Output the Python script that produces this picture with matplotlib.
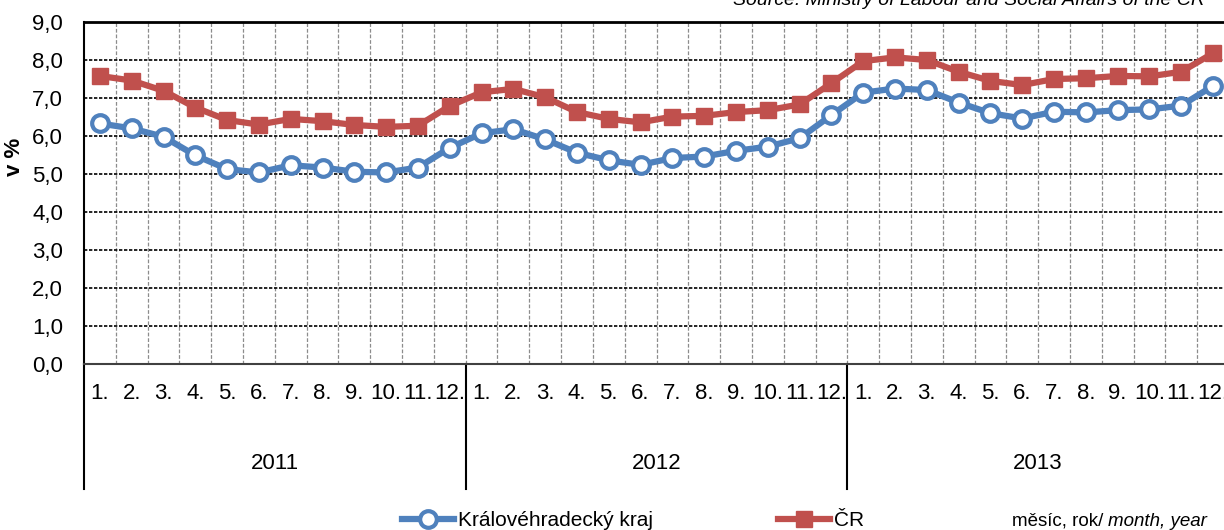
import matplotlib
matplotlib.use('Agg')
import matplotlib.pyplot as plt
from matplotlib.ticker import FuncFormatter
import matplotlib.transforms as mtransforms

plt.rcParams['font.family'] = ['Liberation Sans', 'DejaVu Sans']

years = ['2011', '2012', '2013']
months = [f'{m}.' for m in range(1, 13)]

kraj = [6.33, 6.20, 5.98, 5.49, 5.13, 5.04, 5.23, 5.17, 5.06, 5.04, 5.17, 5.69,
        6.07, 6.18, 5.91, 5.56, 5.36, 5.24, 5.42, 5.46, 5.61, 5.72, 5.94, 6.55,
        7.14, 7.25, 7.21, 6.88, 6.60, 6.46, 6.64, 6.62, 6.68, 6.70, 6.80, 7.32]
cr = [7.58, 7.46, 7.19, 6.75, 6.42, 6.30, 6.45, 6.39, 6.29, 6.24, 6.27, 6.79,
      7.15, 7.24, 7.02, 6.63, 6.45, 6.36, 6.51, 6.53, 6.63, 6.68, 6.83, 7.39,
      7.97, 8.07, 8.00, 7.69, 7.45, 7.34, 7.50, 7.52, 7.58, 7.57, 7.69, 8.18]

blue = '#4F81BD'
red = '#C0504D'
fs = 15
tfs = 16

fig = plt.figure(figsize=(12.24, 5.30), dpi=100)
ax = fig.add_axes([84 / 1224, 166 / 530, 1145 / 1224, 342 / 530])

n = len(kraj)
x = [i + 0.5 for i in range(n)]

ax.plot(x, kraj, color=blue, lw=4.5, marker='o', ms=12, mfc='white', mec=blue, mew=3,
        label='Královéhradecký kraj', zorder=4, clip_on=False)
ax.plot(x, cr, color=red, lw=4.5, marker='s', ms=12, mfc=red, mec=red,
        label='ČR', zorder=3, clip_on=False)

ax.set_xlim(0, n)
ax.set_ylim(0, 9)
ax.set_yticks(range(10))
ax.yaxis.set_major_formatter(FuncFormatter(lambda v, p: f'{v:.1f}'.replace('.', ',')))
ax.tick_params(axis='y', length=0, pad=15, labelsize=tfs)
ax.set_xticks([])

# grid
for i in range(1, n):
    ax.axvline(i, color='#8c8c8c', lw=0.9, ls=(0, (3, 1.5)), zorder=1)
for v in range(1, 9):
    ax.axhline(v, color='black', lw=1.2, ls=(0, (2, 1)), zorder=1)

ax.spines['right'].set_visible(False)
ax.spines['top'].set_linewidth(2)
ax.spines['left'].set_linewidth(1.5)
ax.spines['bottom'].set_linewidth(1.5)
ax.spines['bottom'].set_color('#404040')

# category axis below the plot
trans = mtransforms.blended_transform_factory(ax.transData, ax.transAxes)
for i in range(n):
    ax.text(i + 0.5, -0.085, months[i % 12], transform=trans, ha='center', va='center',
            fontsize=tfs)
for k, yr in enumerate(years):
    ax.text(k * 12 + 6, -0.29, yr, transform=trans, ha='center', va='center', fontsize=tfs)
for k in range(len(years)):
    ax.plot([k * 12, k * 12], [0, -0.365], transform=trans, color='black', lw=1.5,
            clip_on=False)

fig.text(15 / 1224, 1 - 157 / 530, 'v %', rotation=90, ha='center', va='center',
         fontsize=tfs, fontweight='bold')

fig.text(1205 / 1224, 1 - 5 / 530, 'Source: Ministry of Labour and Social Affairs of the CR',
         ha='right', va='baseline', fontsize=14, style='italic')

fig.legend(loc='center', bbox_to_anchor=(633 / 1224, 1 - 521 / 530), ncol=2, frameon=False,
           fontsize=fs, handlelength=2.5, handletextpad=0.2, columnspacing=6.0,
           borderaxespad=0)

fig.text(1012 / 1224, 1 - 521 / 530, 'měsíc, rok/', ha='left', va='center', fontsize=13.5)
fig.text(1108 / 1224, 1 - 521 / 530, 'month, year', ha='left', va='center', fontsize=13.5,
         style='italic')

fig.savefig('out.png', dpi=100)
